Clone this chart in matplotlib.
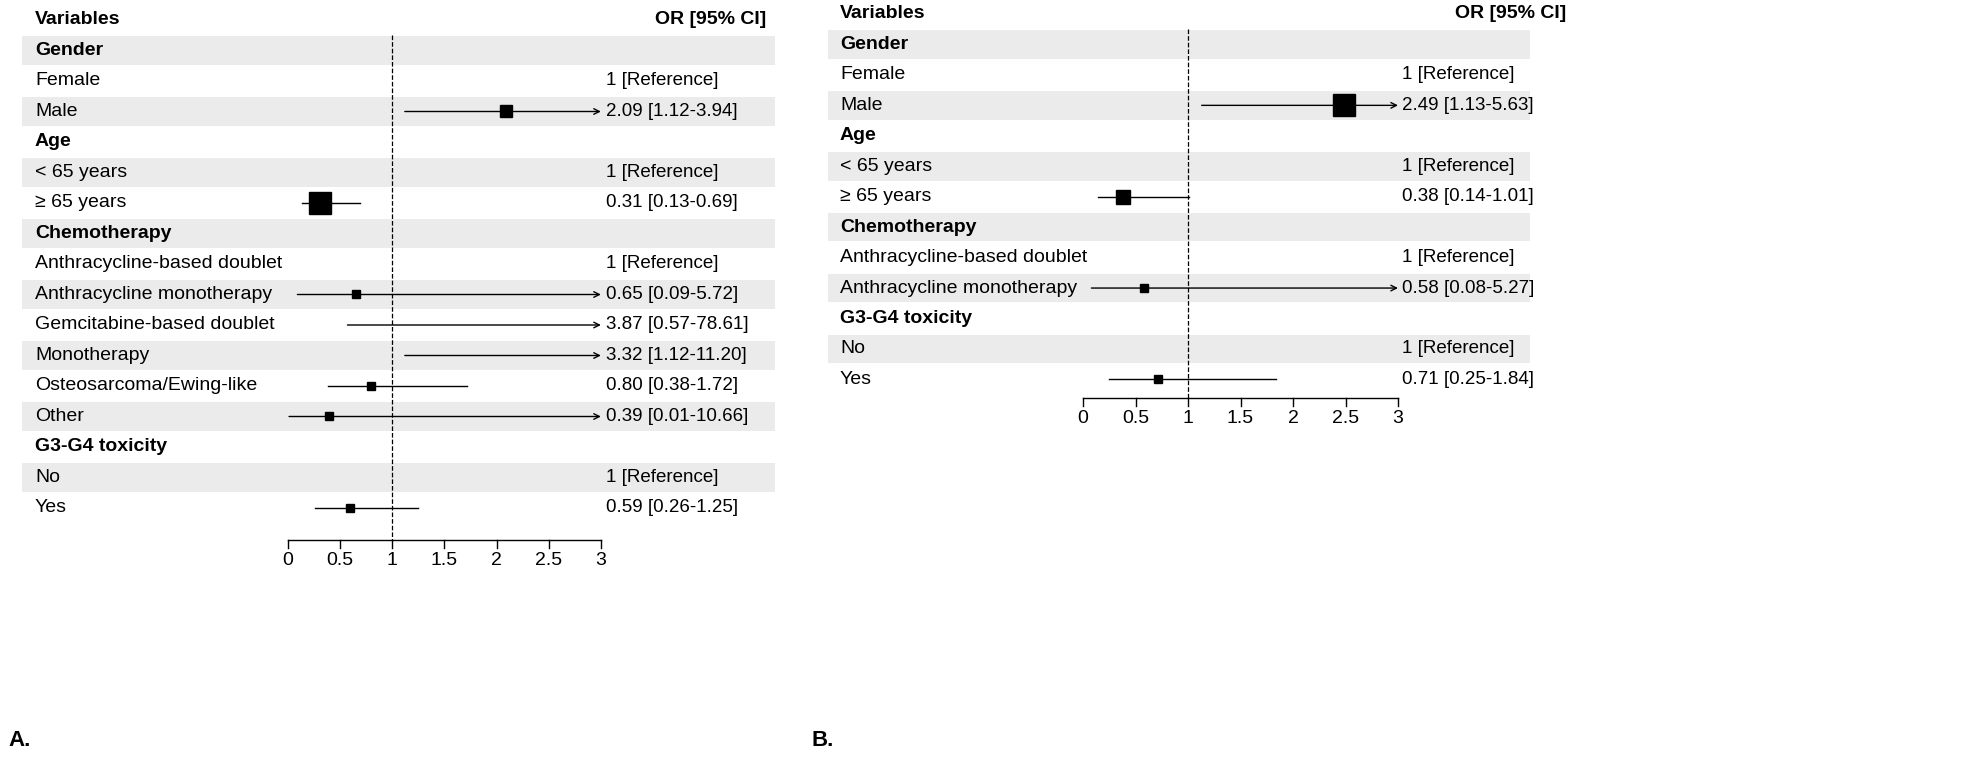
import matplotlib
matplotlib.use("Agg")
import matplotlib.pyplot as plt

plt.rcParams["font.family"] = "Liberation Sans"

# Panel A data
a_labels = ["Gender", "Female", "Male", "Age", "< 65 years", "≥ 65 years", "Chemotherapy",
            "Anthracycline-based doublet", "Anthracycline monotherapy", "Gemcitabine-based doublet",
            "Monotherapy", "Osteosarcoma/Ewing-like", "Other", "G3-G4 toxicity", "No", "Yes"]
a_header = [True, False, False, True, False, False, True, False, False, False, False, False, False, True, False, False]
a_or = [None, None, 2.09, None, None, 0.31, None, None, 0.65, 3.87, 3.32, 0.80, 0.39, None, None, 0.59]
a_lo = [None, None, 1.12, None, None, 0.13, None, None, 0.09, 0.57, 1.12, 0.38, 0.01, None, None, 0.26]
a_hi = [None, None, 3.94, None, None, 0.69, None, None, 5.72, 78.61, 11.20, 1.72, 10.66, None, None, 1.25]
a_txt = ["", "1 [Reference]", "2.09 [1.12-3.94]", "", "1 [Reference]", "0.31 [0.13-0.69]", "",
         "1 [Reference]", "0.65 [0.09-5.72]", "3.87 [0.57-78.61]", "3.32 [1.12-11.20]",
         "0.80 [0.38-1.72]", "0.39 [0.01-10.66]", "", "1 [Reference]", "0.59 [0.26-1.25]"]
a_box = [0, 0, 8, 0, 0, 16, 0, 0, 6, 6, 6, 6, 6, 0, 0, 6]

# Panel B data
b_labels = ["Gender", "Female", "Male", "Age", "< 65 years", "≥ 65 years", "Chemotherapy",
            "Anthracycline-based doublet", "Anthracycline monotherapy", "G3-G4 toxicity", "No", "Yes"]
b_header = [True, False, False, True, False, False, True, False, False, True, False, False]
b_or = [None, None, 2.49, None, None, 0.38, None, None, 0.58, None, None, 0.71]
b_lo = [None, None, 1.13, None, None, 0.14, None, None, 0.08, None, None, 0.25]
b_hi = [None, None, 5.63, None, None, 1.01, None, None, 5.27, None, None, 1.84]
b_txt = ["", "1 [Reference]", "2.49 [1.13-5.63]", "", "1 [Reference]", "0.38 [0.14-1.01]", "",
         "1 [Reference]", "0.58 [0.08-5.27]", "", "1 [Reference]", "0.71 [0.25-1.84]"]
b_box = [0, 0, 16, 0, 0, 10, 0, 0, 6, 0, 0, 6]

ticks = [0, 0.5, 1, 1.5, 2, 2.5, 3]
tick_labels = ["0", "0.5", "1", "1.5", "2", "2.5", "3"]

W, H = 1974, 771
fig = plt.figure(figsize=(W / 100, H / 100), dpi=100)
FS = 14


def panel(px0, px1, zero_px, unit_px, top_row_px, row_px, labels, header, ors, los, his, txts, boxes,
          label_px, or_px, or_head_px, axis_px, tag, tag_px):
    ax = fig.add_axes([px0 / W, 0, (px1 - px0) / W, 1])
    xl = (px0 - zero_px) / unit_px
    xr = (px1 - zero_px) / unit_px
    ax.set_xlim(xl, xr)
    ax.set_ylim((H - top_row_px) / row_px, (0 - top_row_px) / row_px)
    ax.axis("off")
    xlab = (label_px - zero_px) / unit_px
    xor = (or_px - zero_px) / unit_px
    xorh = (or_head_px - zero_px) / unit_px
    ax.text(xlab, 0, "Variables", fontweight="bold", fontsize=FS, va="center")
    ax.text(xorh, 0, "OR [95% CI]", fontweight="bold", fontsize=FS, va="center")
    n = len(labels)
    for i in range(n):
        y = i + 1
        if i % 2 == 0:
            ax.axhspan(y - 0.47, y + 0.47, color="#ebebeb", zorder=0, lw=0)
        ax.text(xlab, y, labels[i], fontsize=FS, va="center",
                fontweight="bold" if header[i] else "normal")
        ax.text(xor, y, txts[i], fontsize=FS - 0.5, va="center")
        if ors[i] is not None:
            lo, hi = los[i], his[i]
            if hi > 3:
                ax.annotate("", xy=(3.0, y), xytext=(lo, y),
                            arrowprops=dict(arrowstyle="->", lw=1, color="black", shrinkA=0, shrinkB=0))
            else:
                ax.plot([lo, hi], [y, y], color="black", lw=1)
            if ors[i] <= 3:
                ax.plot(ors[i], y, marker="s", ms=boxes[i], color="black", zorder=5)
    ya = (axis_px - top_row_px) / row_px
    ax.plot([1, 1], [0.5, ya], ls="--", color="black", lw=0.9)
    ax.plot([0, 3], [ya, ya], color="black", lw=1)
    for t, l in zip(ticks, tick_labels):
        ax.plot([t, t], [ya, ya + 8 / row_px], color="black", lw=1)
        ax.text(t, ya + 12 / row_px, l, ha="center", va="top", fontsize=FS)
    fig.text(tag_px / W, 1 - 740 / H, tag, fontweight="bold", fontsize=16, va="center")


panel(22, 775, 288, 104.3, 20, 30.5, a_labels, a_header, a_or, a_lo, a_hi, a_txt, a_box,
      35, 606, 655, 540, "A.", 8)
panel(828, 1530, 1083, 105, 14, 30.45, b_labels, b_header, b_or, b_lo, b_hi, b_txt, b_box,
      840, 1402, 1455, 398, "B.", 812)

fig.savefig("out.png", dpi=100)
